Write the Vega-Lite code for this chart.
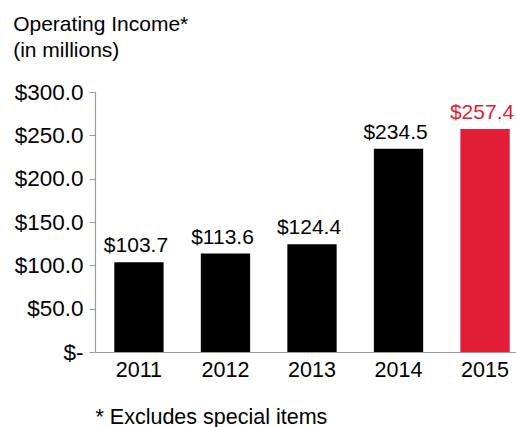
{
  "$schema": "https://vega.github.io/schema/vega-lite/v6.json",
  "width": 434,
  "height": 260,
  "autosize": "none",
  "padding": {"left": 95, "top": 92, "right": 0, "bottom": 75},
  "background": "white",
  "config": {
    "font": "Liberation Sans",
    "view": {"stroke": null}
  },
  "title": {
    "text": ["Operating Income*", "(in millions)"],
    "anchor": "start",
    "frame": "bounds",
    "fontSize": 21,
    "fontWeight": "normal",
    "color": "black",
    "lineHeight": 26,
    "offset": 20,
    "dx": -1
  },
  "data": {
    "values": [
      {"year": "2011", "income": 103.7, "highlight": "no"},
      {"year": "2012", "income": 113.6, "highlight": "no"},
      {"year": "2013", "income": 124.4, "highlight": "no"},
      {"year": "2014", "income": 234.5, "highlight": "no"},
      {"year": "2015", "income": 257.4, "highlight": "yes"}
    ]
  },
  "encoding": {
    "x": {
      "field": "year",
      "type": "nominal",
      "sort": null,
      "scale": {"paddingInner": 0.43, "paddingOuter": 0.223},
      "axis": {
        "title": "* Excludes special items",
        "titleFontSize": 21.5,
        "titleFontWeight": "normal",
        "titleColor": "black",
        "titleAnchor": "start",
        "titleAlign": "left",
        "titleX": 0,
        "titleY": 71,
        "titleBaseline": "alphabetic",
        "labelAngle": 0,
        "labelFontSize": 21.5,
        "labelColor": "black",
        "labelPadding": 7,
        "ticks": false,
        "domainColor": "#9a9a9a",
        "domainWidth": 1.2
      }
    },
    "y": {
      "field": "income",
      "type": "quantitative",
      "scale": {"domain": [0, 300], "nice": false},
      "axis": {
        "title": null,
        "values": [0, 50, 100, 150, 200, 250, 300],
        "labelExpr": "datum.value == 0 ? '$-' : '$' + format(datum.value, '.1f')",
        "labelFontSize": 22.5,
        "labelColor": "black",
        "labelPadding": 6,
        "tickSize": 6,
        "tickColor": "#9a9a9a",
        "domainColor": "#9a9a9a",
        "domainWidth": 1.2,
        "grid": false
      }
    },
    "color": {
      "field": "highlight",
      "type": "nominal",
      "scale": {"domain": ["no", "yes"], "range": ["#000000", "#e21d38"]},
      "legend": null
    }
  },
  "layer": [
    {"mark": {"type": "bar"}},
    {
      "mark": {"type": "text", "baseline": "alphabetic", "dy": -10, "dx": -3, "fontSize": 21},
      "encoding": {
        "text": {"field": "income", "type": "quantitative", "format": "$.1f"}
      }
    }
  ]
}
